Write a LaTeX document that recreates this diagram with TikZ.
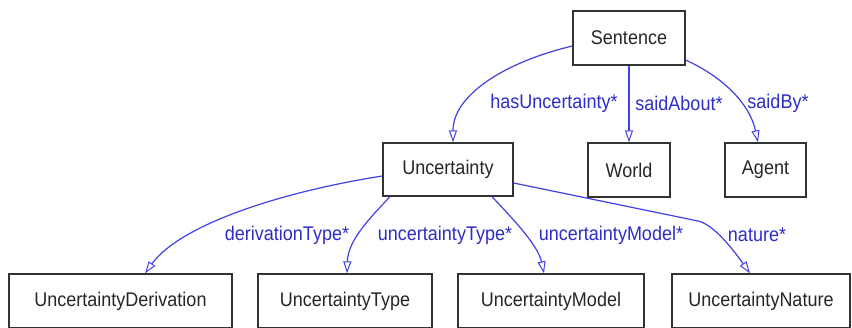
\documentclass[tikz,border=0pt]{standalone}
\usepackage{fontspec}
\setmainfont{Liberation Sans}
\usetikzlibrary{arrows.meta}
\definecolor{edgeblue}{RGB}{65,65,230}
\definecolor{labelblue}{RGB}{45,45,200}
\definecolor{boxline}{RGB}{50,50,50}
\newcommand{\tallt}[1]{\scalebox{1}[1.1]{#1}}
\begin{document}
\begin{tikzpicture}[x=1pt,y=-1pt,
  box/.style={draw=boxline,line width=1.3pt,fill=white,rectangle,inner sep=0pt,
    font=\fontsize{18}{20}\selectfont,text=black!85},
  rel/.style={draw=edgeblue,line width=1.2pt,
    -{Triangle[open,length=12pt,width=8pt,line width=1pt]}},
  lbl/.style={font=\fontsize{18}{20}\selectfont,text=labelblue,inner sep=0pt}]
\useasboundingbox[fill=white] (0,0) rectangle (852,327);
\node[box,minimum width=112pt,minimum height=54pt] (S) at (629,38) {\tallt{Sentence}};
\node[box,minimum width=130pt,minimum height=53pt] (U) at (448,169.5) {\tallt{Uncertainty}};
\node[box,minimum width=82pt,minimum height=54pt] (W) at (629,170) {\tallt{World}};
\node[box,minimum width=81pt,minimum height=54pt] (A) at (765.5,170) {\tallt{Agent}};
\node[box,minimum width=223pt,minimum height=54pt] (UD) at (120.5,301) {\tallt{UncertaintyDerivation}};
\node[box,minimum width=174pt,minimum height=54pt] (UT) at (345,301) {\tallt{UncertaintyType}};
\node[box,minimum width=186pt,minimum height=54pt] (UM) at (551,301) {\tallt{UncertaintyModel}};
\node[box,minimum width=178pt,minimum height=54pt] (UN) at (761,301) {\tallt{UncertaintyNature}};

\draw[rel] ([yshift=-8pt]S.west) .. controls (505,62) and (453,95) .. ([xshift=5pt]U.north);
\draw[rel] (S.south) -- (W.north);
\draw[rel] ([yshift=-22pt]S.east) .. controls (725,78) and (750,105) .. ([xshift=-7.5pt]A.north);

\draw[rel] ([yshift=-6.5pt]U.west) .. controls (280,192) and (180,225) .. ([xshift=24.5pt]UD.north);
\draw[rel] ([xshift=-58pt]U.south) .. controls (370,218) and (348,240) .. ([xshift=2pt]UT.north);
\draw[rel] ([xshift=44pt]U.south) .. controls (512,218) and (538,245) .. ([xshift=-7pt]UM.north);
\draw[rel] ([yshift=-13.5pt]U.east) -- (698,221) .. controls (712,224) and (730,245) .. ([xshift=-11pt]UN.north);

\node[lbl] (l1) at (554,103) {\tallt{hasUncertainty*}};
\node[lbl] (l2) at (679,103) {\tallt{saidAbout*}};
\node[lbl] (l3) at (778,103) {\tallt{saidBy*}};
\node[lbl] (l4) at (287,235) {\tallt{derivationType*}};
\node[lbl] (l5) at (445,235) {\tallt{uncertaintyType*}};
\node[lbl] (l6) at (611,235) {\tallt{uncertaintyModel*}};
\node[lbl] (l7) at (757,235) {\tallt{nature*}};
\end{tikzpicture}
\end{document}
